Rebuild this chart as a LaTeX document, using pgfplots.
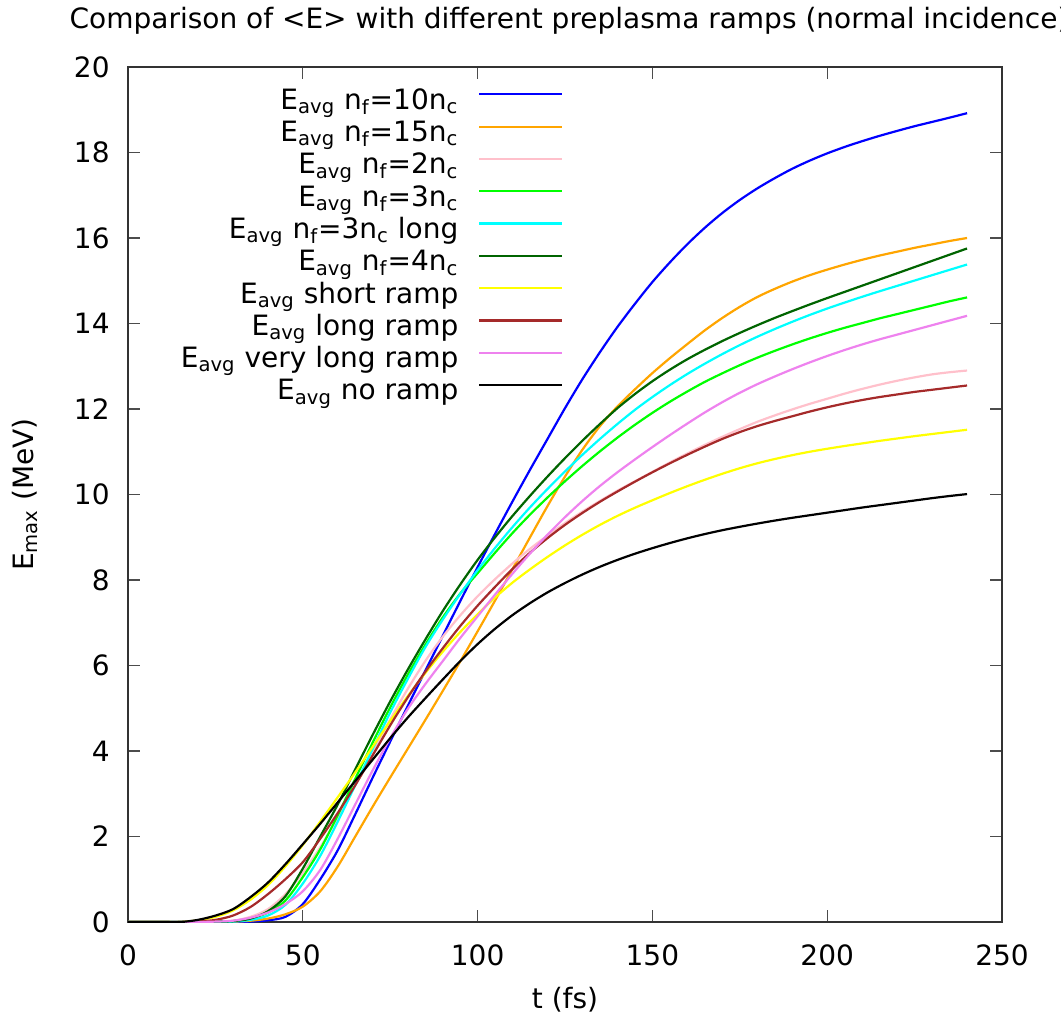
\documentclass[border=0pt]{standalone}
\usepackage{fontspec}
\setmainfont{DejaVu Sans}
\usepackage{pgfplots}
\pgfplotsset{compat=1.18}
\definecolor{cOrange}{RGB}{255,165,0}
\definecolor{cPink}{RGB}{255,192,203}
\definecolor{cGreen}{RGB}{0,255,0}
\definecolor{cCyan}{RGB}{0,255,255}
\definecolor{cDG}{RGB}{0,100,0}
\definecolor{cYellow}{RGB}{255,255,0}
\definecolor{cBrown}{RGB}{165,42,42}
\definecolor{cViolet}{RGB}{238,130,238}
\newcommand{\Ea}{E\textsubscript{avg}}
\begin{document}
\begin{tikzpicture}
\begin{axis}[
  name=ax,
  scale only axis,
  width=437pt, height=427.5pt,
  xmin=0, xmax=250, ymin=0, ymax=20,
  xtick={0,50,100,150,200,250},
  ytick={0,2,4,6,8,10,12,14,16,18,20},
  tick align=inside,
  major tick length=6pt,
  axis line style={line width=0.6pt, black!80},
  tick style={line width=0.6pt, black!70},
  font=\fontsize{14}{16}\selectfont,
  /pgf/number format/assume math mode=true,
  xticklabel style={anchor=center, yshift=-16.5pt, inner sep=0pt},
  yticklabel style={anchor=east, xshift=-9pt, inner sep=0pt},
  title={Comparison of <E> with different preplasma ramps (normal incidence)},
  title style={at={(axis description cs:0.5,1)}, anchor=center, xshift=2pt, yshift=17pt, font=\fontsize{14}{16}\selectfont},
  xlabel={t (fs)},
  ylabel={E\textsubscript{max} (MeV)},
  every axis x label/.style={at={(axis description cs:0.5,0)}, anchor=center, yshift=-39pt},
  every axis y label/.style={at={(axis description cs:-0.1178,0.5)}, rotate=90, anchor=center},
  legend cell align=right,
  legend plot pos=right,
  legend style={draw=none, fill=none, inner sep=0pt, at={(0.4988,0.9768)}, anchor=north east,
    nodes={inner sep=0pt, text height=11pt, text depth=5.15pt, anchor=east}, font=\fontsize{14}{16}\selectfont},
  legend image code/.code={\path (0pt,0pt); \draw[#1] (10pt,4.5pt) -- (51.5pt,4.5pt);},
  every axis plot/.append style={line width=1.1pt, smooth},
]
\addplot[blue] coordinates {(0,0)(5,0)(10,0)(15,0)(20,0)(25,0)(30,0)(35,0.01)(40,0.04)(45,0.12)(50,0.42)(55,1.0)(60,1.68)(65,2.52)(70,3.38)(75,4.22)(80,5.05)(85,5.87)(90,6.69)(95,7.5)(100,8.3)(105,9.08)(110,9.84)(115,10.58)(120,11.3)(125,12.02)(130,12.7)(135,13.33)(140,13.92)(145,14.46)(150,14.97)(155,15.43)(160,15.855)(165,16.24)(170,16.585)(175,16.89)(180,17.16)(185,17.4)(190,17.62)(195,17.81)(200,17.98)(205,18.13)(210,18.265)(215,18.39)(220,18.505)(225,18.615)(230,18.715)(235,18.815)(240,18.92)};
\addlegendentry{\Ea{} n\textsubscript{f}=10n\textsubscript{c}}
\addplot[cOrange] coordinates {(0,0)(5,0)(10,0)(15,0)(20,0)(25,0)(30,0.01)(35,0.03)(40,0.08)(45,0.18)(50,0.36)(55,0.72)(60,1.3)(65,2.0)(70,2.7)(75,3.38)(80,4.05)(85,4.72)(90,5.4)(95,6.09)(100,6.8)(105,7.52)(110,8.26)(115,9.0)(120,9.73)(125,10.42)(130,11.05)(135,11.6)(140,12.06)(145,12.46)(150,12.84)(155,13.19)(160,13.52)(165,13.84)(170,14.13)(175,14.39)(180,14.62)(185,14.81)(190,14.98)(195,15.13)(200,15.26)(205,15.38)(210,15.49)(215,15.59)(220,15.68)(225,15.77)(230,15.85)(235,15.93)(240,16.0)};
\addlegendentry{\Ea{} n\textsubscript{f}=15n\textsubscript{c}}
\addplot[cPink] coordinates {(0,0)(5,0)(10,0)(15,0)(20,0)(25,0.01)(30,0.03)(35,0.12)(40,0.3)(45,0.65)(50,1.15)(55,1.75)(60,2.45)(65,3.2)(70,3.98)(75,4.74)(80,5.45)(85,6.1)(90,6.67)(95,7.17)(100,7.62)(105,8.02)(110,8.39)(115,8.73)(120,9.04)(125,9.33)(130,9.6)(135,9.85)(140,10.09)(145,10.31)(150,10.53)(155,10.75)(160,10.96)(165,11.16)(170,11.35)(175,11.53)(180,11.7)(185,11.85)(190,11.99)(195,12.12)(200,12.24)(205,12.36)(210,12.47)(215,12.57)(220,12.66)(225,12.74)(230,12.81)(235,12.86)(240,12.9)};
\addlegendentry{\Ea{} n\textsubscript{f}=2n\textsubscript{c}}
\addplot[cGreen] coordinates {(0,0)(5,0)(10,0)(15,0)(20,0)(25,0.01)(30,0.02)(35,0.08)(40,0.22)(45,0.5)(50,1.05)(55,1.7)(60,2.5)(65,3.35)(70,4.2)(75,5.02)(80,5.78)(85,6.48)(90,7.12)(95,7.68)(100,8.16)(105,8.64)(110,9.1)(115,9.53)(120,9.93)(125,10.31)(130,10.67)(135,11.01)(140,11.33)(145,11.63)(150,11.91)(155,12.17)(160,12.41)(165,12.635)(170,12.835)(175,13.025)(180,13.2)(185,13.36)(190,13.51)(195,13.65)(200,13.78)(205,13.9)(210,14.01)(215,14.12)(220,14.22)(225,14.32)(230,14.42)(235,14.52)(240,14.61)};
\addlegendentry{\Ea{} n\textsubscript{f}=3n\textsubscript{c}}
\addplot[cCyan] coordinates {(0,0)(5,0)(10,0)(15,0)(20,0)(25,0)(30,0.01)(35,0.05)(40,0.15)(45,0.4)(50,0.9)(55,1.55)(60,2.35)(65,3.2)(70,4.05)(75,4.9)(80,5.68)(85,6.42)(90,7.07)(95,7.67)(100,8.23)(105,8.75)(110,9.24)(115,9.7)(120,10.13)(125,10.54)(130,10.93)(135,11.3)(140,11.65)(145,11.98)(150,12.28)(155,12.56)(160,12.82)(165,13.06)(170,13.285)(175,13.495)(180,13.69)(185,13.87)(190,14.04)(195,14.2)(200,14.35)(205,14.49)(210,14.625)(215,14.755)(220,14.88)(225,15.005)(230,15.13)(235,15.255)(240,15.38)};
\addlegendentry{\Ea{} n\textsubscript{f}=3n\textsubscript{c} long}
\addplot[cDG] coordinates {(0,0)(5,0)(10,0)(15,0)(20,0)(25,0.01)(30,0.02)(35,0.08)(40,0.25)(45,0.6)(50,1.25)(55,2.0)(60,2.75)(65,3.57)(70,4.38)(75,5.16)(80,5.9)(85,6.6)(90,7.27)(95,7.89)(100,8.47)(105,9.0)(110,9.5)(115,9.97)(120,10.42)(125,10.85)(130,11.26)(135,11.65)(140,12.02)(145,12.35)(150,12.65)(155,12.92)(160,13.165)(165,13.385)(170,13.59)(175,13.78)(180,13.96)(185,14.13)(190,14.29)(195,14.445)(200,14.595)(205,14.74)(210,14.885)(215,15.03)(220,15.175)(225,15.32)(230,15.465)(235,15.61)(240,15.755)};
\addlegendentry{\Ea{} n\textsubscript{f}=4n\textsubscript{c}}
\addplot[cYellow] coordinates {(0,0)(5,0)(10,0)(15,0)(20,0.04)(25,0.12)(30,0.27)(35,0.52)(40,0.86)(45,1.3)(50,1.8)(55,2.35)(60,2.92)(65,3.5)(70,4.1)(75,4.7)(80,5.28)(85,5.82)(90,6.32)(95,6.78)(100,7.2)(105,7.59)(110,7.94)(115,8.25)(120,8.54)(125,8.81)(130,9.06)(135,9.29)(140,9.5)(145,9.69)(150,9.865)(155,10.035)(160,10.195)(165,10.345)(170,10.485)(175,10.615)(180,10.73)(185,10.83)(190,10.92)(195,11.0)(200,11.07)(205,11.135)(210,11.195)(215,11.255)(220,11.31)(225,11.365)(230,11.415)(235,11.465)(240,11.515)};
\addlegendentry{\Ea{} short ramp}
\addplot[cBrown] coordinates {(0,0)(5,0)(10,0)(15,0)(20,0.01)(25,0.05)(30,0.15)(35,0.35)(40,0.65)(45,1.0)(50,1.4)(55,1.95)(60,2.55)(65,3.2)(70,3.9)(75,4.6)(80,5.25)(85,5.85)(90,6.4)(95,6.92)(100,7.4)(105,7.84)(110,8.26)(115,8.64)(120,8.98)(125,9.29)(130,9.57)(135,9.83)(140,10.07)(145,10.3)(150,10.52)(155,10.73)(160,10.93)(165,11.12)(170,11.3)(175,11.46)(180,11.6)(185,11.72)(190,11.83)(195,11.94)(200,12.04)(205,12.13)(210,12.21)(215,12.28)(220,12.34)(225,12.4)(230,12.45)(235,12.5)(240,12.55)};
\addlegendentry{\Ea{} long ramp}
\addplot[cViolet] coordinates {(0,0)(5,0)(10,0)(15,0)(20,0)(25,0.01)(30,0.03)(35,0.1)(40,0.22)(45,0.42)(50,0.72)(55,1.22)(60,1.95)(65,2.75)(70,3.55)(75,4.3)(80,4.98)(85,5.56)(90,6.1)(95,6.64)(100,7.15)(105,7.66)(110,8.15)(115,8.62)(120,9.06)(125,9.47)(130,9.85)(135,10.2)(140,10.52)(145,10.82)(150,11.11)(155,11.39)(160,11.66)(165,11.92)(170,12.16)(175,12.38)(180,12.58)(185,12.76)(190,12.93)(195,13.09)(200,13.24)(205,13.38)(210,13.51)(215,13.63)(220,13.74)(225,13.85)(230,13.96)(235,14.07)(240,14.18)};
\addlegendentry{\Ea{} very long ramp}
\addplot[black] coordinates {(0,0)(5,0)(10,0)(15,0)(20,0.05)(25,0.15)(30,0.3)(35,0.58)(40,0.92)(45,1.35)(50,1.82)(55,2.3)(60,2.8)(65,3.3)(70,3.8)(75,4.3)(80,4.78)(85,5.23)(90,5.67)(95,6.1)(100,6.5)(105,6.86)(110,7.18)(115,7.46)(120,7.71)(125,7.93)(130,8.13)(135,8.31)(140,8.47)(145,8.615)(150,8.745)(155,8.865)(160,8.975)(165,9.075)(170,9.165)(175,9.245)(180,9.32)(185,9.39)(190,9.455)(195,9.515)(200,9.575)(205,9.635)(210,9.695)(215,9.75)(220,9.805)(225,9.86)(230,9.915)(235,9.965)(240,10.01)};
\addlegendentry{\Ea{} no ramp}
\end{axis}
\pgfresetboundingbox
\path[use as bounding box] ([xshift=-64pt,yshift=-48.5pt]ax.south west) rectangle ([xshift=29.5pt,yshift=33.5pt]ax.north east);
\end{tikzpicture}
\end{document}
